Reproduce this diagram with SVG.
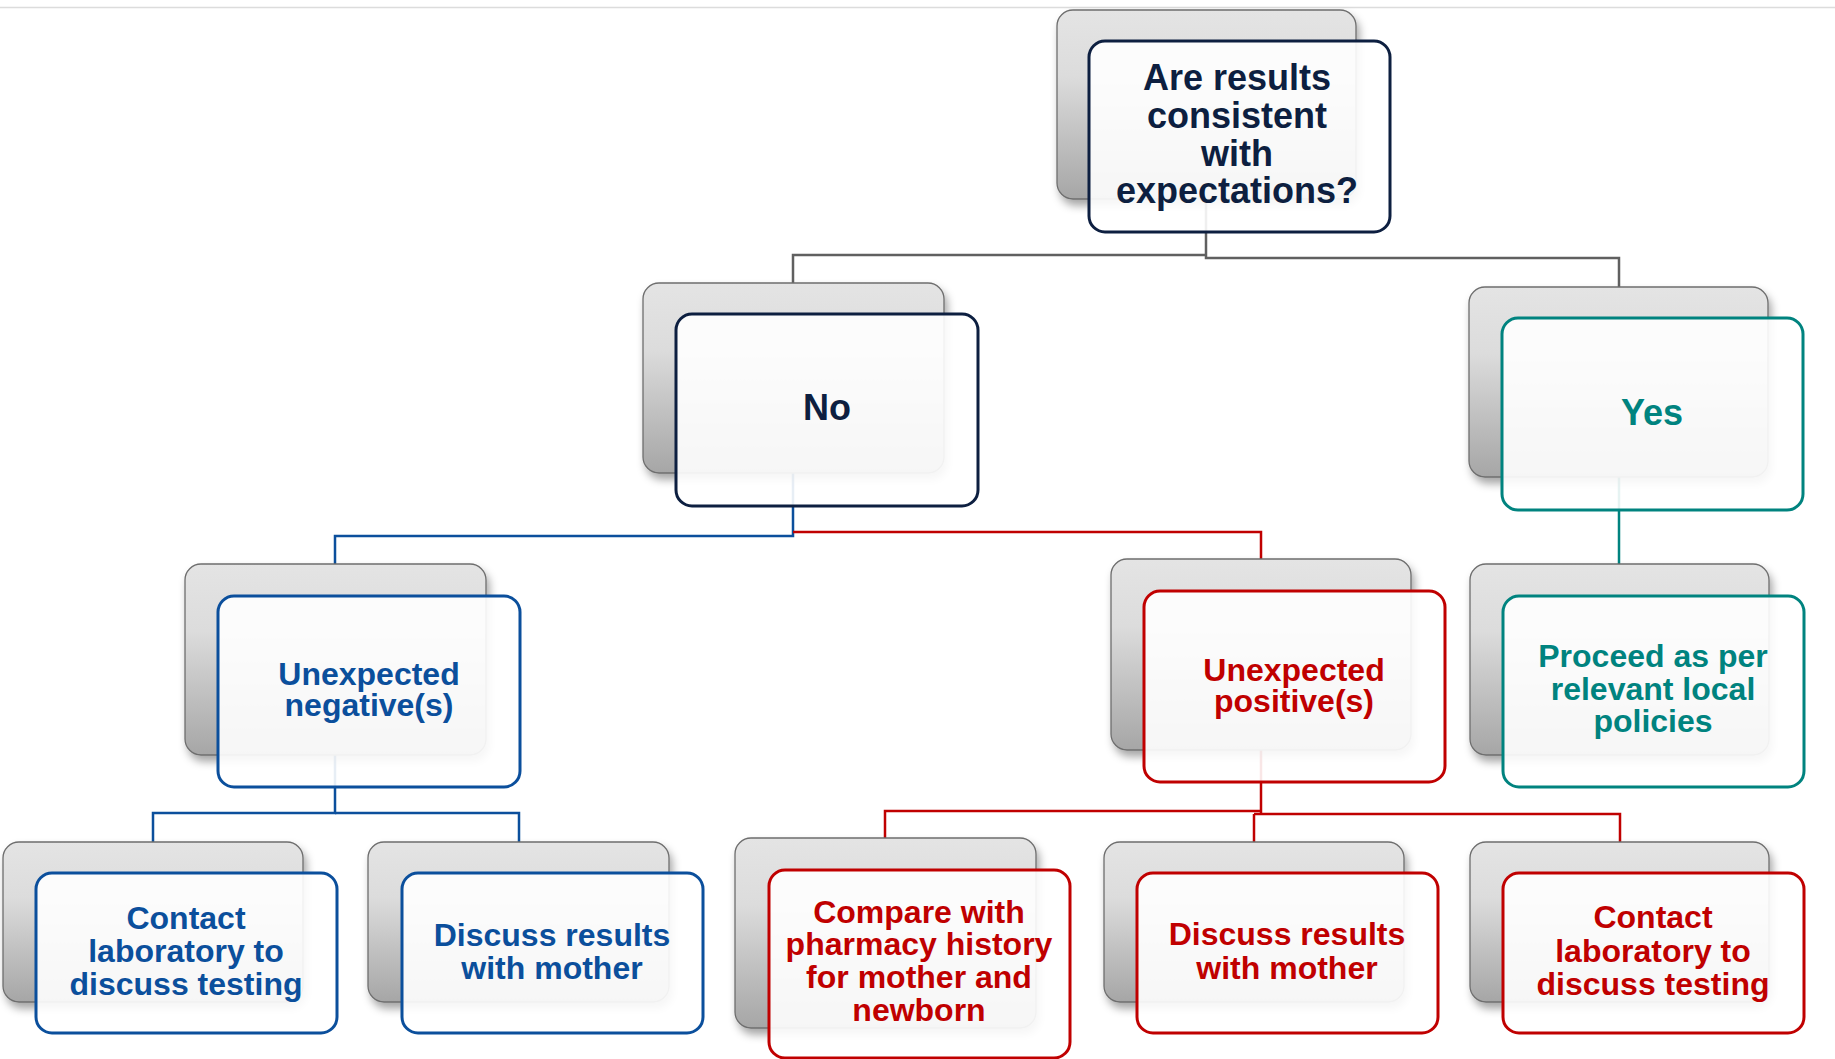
<svg xmlns="http://www.w3.org/2000/svg" width="1835" height="1059" viewBox="0 0 1835 1059">
<defs>
<linearGradient id="g" x1="0" y1="0" x2="0" y2="1">
<stop offset="0" stop-color="#e4e4e4"/>
<stop offset="0.35" stop-color="#dcdcdc"/>
<stop offset="1" stop-color="#a6a6a6"/>
</linearGradient>
<filter id="sh" x="-10%" y="-10%" width="125%" height="130%">
<feDropShadow dx="3" dy="6" stdDeviation="4" flood-color="#000" flood-opacity="0.35"/>
</filter>
</defs>
<style>
.back{fill:url(#g);stroke:#6e6e6e;stroke-width:1.3;filter:url(#sh)}
.front{fill:#ffffff;fill-opacity:0.9;stroke-width:3}
.c{fill:none;stroke-width:2.5}
text{font-family:"Liberation Sans",Arial,sans-serif;font-weight:bold;text-anchor:middle;font-size:32px}
.big{font-size:36px}
.navy{stroke:#0d1f40}.tnavy{fill:#0d1f40}
.blue{stroke:#0b4f9c}.tblue{fill:#0b4f9c}
.red{stroke:#c00000}.tred{fill:#c00000}
.teal{stroke:#00837f}.tteal{fill:#00837f}
.gray{stroke:#606060}
</style>
<rect width="1835" height="1059" fill="#ffffff"/>
<line x1="0" y1="7.5" x2="1835" y2="7.5" stroke="#dcdcdc" stroke-width="1.5"/>
<g id="connectors">
<path class="c gray" d="M1206,199 V258 H1619 V287"/>
<path class="c gray" d="M1206,255 H793 V283"/>
<path class="c blue" d="M793,473 V536 H335 V564"/>
<path class="c red" d="M793,532 H1261 V559"/>
<path class="c teal" d="M1619,477 V564"/>
<path class="c blue" d="M335,755 V813 H153 V842"/>
<path class="c blue" d="M335,813 H519 V842"/>
<path class="c red" d="M1261,750 V814"/>
<path class="c red" d="M1261,811 H885 V838"/>
<path class="c red" d="M1254,814 H1620 V842"/>
<path class="c red" d="M1254,814 V842"/>
</g>
<g id="node-question">
<rect class="back" x="1057" y="10" width="299" height="189" rx="16"/>
<rect class="front navy" x="1089" y="41" width="301" height="191" rx="16"/>
<text class="big tnavy" x="1237" y="90">Are results</text>
<text class="big tnavy" x="1237" y="128">consistent</text>
<text class="big tnavy" x="1237" y="166">with</text>
<text class="big tnavy" x="1237" y="203">expectations?</text>
</g>
<g id="node-no">
<rect class="back" x="643" y="283" width="301" height="190" rx="16"/>
<rect class="front navy" x="676" y="314" width="302" height="192" rx="16"/>
<text class="big tnavy" x="827" y="420">No</text>
</g>
<g id="node-yes">
<rect class="back" x="1469" y="287" width="299" height="190" rx="16"/>
<rect class="front teal" x="1502" y="318" width="301" height="192" rx="16"/>
<text class="big tteal" x="1652" y="425">Yes</text>
</g>
<g id="node-neg">
<rect class="back" x="185" y="564" width="301" height="191" rx="16"/>
<rect class="front blue" x="218" y="596" width="302" height="191" rx="16"/>
<text class="tblue" x="369" y="685">Unexpected</text>
<text class="tblue" x="369" y="716">negative(s)</text>
</g>
<g id="node-pos">
<rect class="back" x="1111" y="559" width="300" height="191" rx="16"/>
<rect class="front red" x="1144" y="591" width="301" height="191" rx="16"/>
<text class="tred" x="1294" y="681">Unexpected</text>
<text class="tred" x="1294" y="712">positive(s)</text>
</g>
<g id="node-proceed">
<rect class="back" x="1470" y="564" width="299" height="191" rx="16"/>
<rect class="front teal" x="1503" y="596" width="301" height="191" rx="16"/>
<text class="tteal" x="1653" y="667">Proceed as per</text>
<text class="tteal" x="1653" y="700">relevant local</text>
<text class="tteal" x="1653" y="732">policies</text>
</g>
<g id="node-contact-blue">
<rect class="back" x="3" y="842" width="300" height="160" rx="16"/>
<rect class="front blue" x="36" y="873" width="301" height="160" rx="16"/>
<text class="tblue" x="186" y="929">Contact</text>
<text class="tblue" x="186" y="962">laboratory to</text>
<text class="tblue" x="186" y="995">discuss testing</text>
</g>
<g id="node-discuss-blue">
<rect class="back" x="368" y="842" width="301" height="160" rx="16"/>
<rect class="front blue" x="402" y="873" width="301" height="160" rx="16"/>
<text class="tblue" x="552" y="946">Discuss results</text>
<text class="tblue" x="552" y="979">with mother</text>
</g>
<g id="node-compare">
<rect class="back" x="735" y="838" width="301" height="190" rx="16"/>
<rect class="front red" x="769" y="870" width="301" height="188" rx="16"/>
<text class="tred" x="919" y="923">Compare with</text>
<text class="tred" x="919" y="955">pharmacy history</text>
<text class="tred" x="919" y="988">for mother and</text>
<text class="tred" x="919" y="1021">newborn</text>
</g>
<g id="node-discuss-red">
<rect class="back" x="1104" y="842" width="300" height="160" rx="16"/>
<rect class="front red" x="1137" y="873" width="301" height="160" rx="16"/>
<text class="tred" x="1287" y="945">Discuss results</text>
<text class="tred" x="1287" y="979">with mother</text>
</g>
<g id="node-contact-red">
<rect class="back" x="1470" y="842" width="299" height="160" rx="16"/>
<rect class="front red" x="1503" y="873" width="301" height="160" rx="16"/>
<text class="tred" x="1653" y="928">Contact</text>
<text class="tred" x="1653" y="962">laboratory to</text>
<text class="tred" x="1653" y="995">discuss testing</text>
</g>
</svg>
